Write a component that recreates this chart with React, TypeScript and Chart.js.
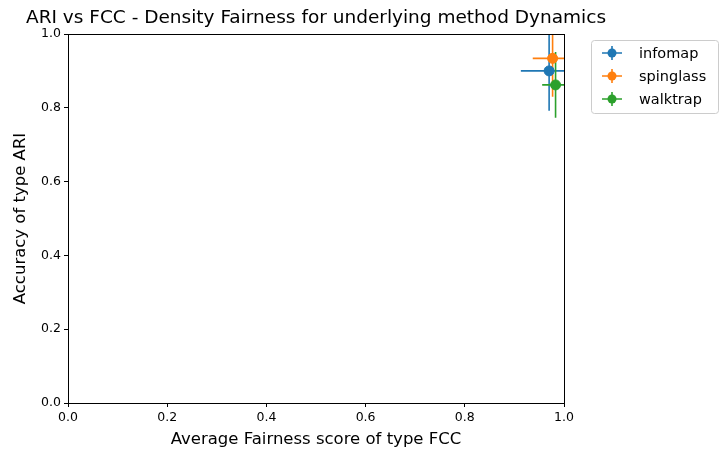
import React, { useEffect, useRef } from 'react'
import { Chart, registerables } from 'chart.js'

Chart.register(...registerables)

const methods = ['infomap', 'spinglass', 'walktrap']
const colors = ['#1f77b4', '#ff7f0e', '#2ca02c']
const fairness = [0.970, 0.977, 0.983]
const fairnessErr = [0.057, 0.040, 0.027]
const accuracy = [0.900, 0.934, 0.862]
const accuracyErr = [0.108, 0.104, 0.089]

const font = { family: 'DejaVu Sans' }

const errorBars = {
  id: 'errorBars',
  beforeDatasetsDraw(chart: any) {
    const { ctx, chartArea: a, scales: { x, y } } = chart
    ctx.save()
    ctx.beginPath()
    ctx.rect(a.left, a.top, a.right - a.left, a.bottom - a.top)
    ctx.clip()
    ctx.lineWidth = 1.6
    methods.forEach((_, i) => {
      ctx.strokeStyle = colors[i]
      const px = x.getPixelForValue(fairness[i])
      const py = y.getPixelForValue(accuracy[i])
      ctx.beginPath()
      ctx.moveTo(x.getPixelForValue(fairness[i] - fairnessErr[i]), py)
      ctx.lineTo(x.getPixelForValue(fairness[i] + fairnessErr[i]), py)
      ctx.moveTo(px, y.getPixelForValue(accuracy[i] - accuracyErr[i]))
      ctx.lineTo(px, y.getPixelForValue(accuracy[i] + accuracyErr[i]))
      ctx.stroke()
    })
    ctx.restore()
  },
  afterDraw(chart: any) {
    const { ctx, chartArea: a } = chart
    ctx.save()
    ctx.strokeStyle = '#000'
    ctx.lineWidth = 1
    ctx.strokeRect(a.left + 0.5, a.top + 0.5, a.right - a.left, a.bottom - a.top)
    ctx.fillStyle = '#000'
    ctx.font = '18.5px DejaVu Sans'
    ctx.textAlign = 'center'
    ctx.textBaseline = 'middle'
    ctx.fillText('ARI vs FCC - Density Fairness for underlying method Dynamics', 316, 18)
    // legend
    ctx.strokeStyle = '#cccccc'
    ctx.fillStyle = '#fff'
    ctx.lineWidth = 1
    const lx = 591, ly = 40, lw = 127, lh = 73
    ctx.beginPath()
    ctx.roundRect(lx + 0.5, ly + 0.5, lw, lh, 3)
    ctx.fill()
    ctx.stroke()
    ctx.font = '14.5px DejaVu Sans'
    ctx.textAlign = 'left'
    methods.forEach((m, i) => {
      const cy = ly + 13 + i * 23
      const cx = lx + 21
      ctx.strokeStyle = colors[i]
      ctx.fillStyle = colors[i]
      ctx.lineWidth = 1.6
      ctx.beginPath()
      ctx.moveTo(cx - 10, cy); ctx.lineTo(cx + 10, cy)
      ctx.moveTo(cx, cy - 7); ctx.lineTo(cx, cy + 7)
      ctx.stroke()
      ctx.beginPath()
      ctx.arc(cx, cy, 4.5, 0, Math.PI * 2)
      ctx.fill()
      ctx.fillStyle = '#000'
      ctx.fillText(m, lx + 48, cy + 1)
    })
    ctx.restore()
  },
}

export default function App() {
  const canvasRef = useRef<HTMLCanvasElement | null>(null)

  useEffect(() => {
    const el = canvasRef.current
    if (!el) return
    const tickCfg = {
      color: '#000',
      font: { ...font, size: 12.5 },
      callback: (v: any) => Number(v).toFixed(1),
      stepSize: 0.2,
    }
    const gridCfg = { drawOnChartArea: false, tickLength: 4, color: '#000' }
    const chart = new Chart(el, {
      type: 'scatter',
      data: {
        datasets: methods.map((m, i) => ({
          label: m,
          data: [{ x: fairness[i], y: accuracy[i] }],
          backgroundColor: colors[i],
          borderColor: colors[i],
          pointRadius: 5,
          pointHoverRadius: 5,
          clip: false as any,
        })),
      },
      options: {
        animation: false,
        responsive: false,
        layout: { padding: { left: 0, right: 163, top: 34, bottom: 0 } },
        plugins: { legend: { display: false }, tooltip: { enabled: false } },
        scales: {
          x: {
            type: 'linear', min: 0, max: 1,
            ticks: tickCfg, grid: gridCfg,
            border: { color: '#000', width: 1 },
            title: { display: true, text: 'Average Fairness score of type FCC', color: '#000', font: { ...font, size: 16.5 }, padding: { top: 0, bottom: 10 } },
            afterFit: (s: any) => { s.height = 57 },
          },
          y: {
            type: 'linear', min: 0, max: 1,
            ticks: tickCfg, grid: gridCfg,
            border: { color: '#000', width: 1 },
            title: { display: true, text: 'Accuracy of type ARI', color: '#000', font: { ...font, size: 16.5 }, padding: { top: 11, bottom: 0 } },
            afterFit: (s: any) => { s.width = 68 },
          },
        },
      },
      plugins: [errorBars],
    })
    return () => chart.destroy()
  }, [])

  return (
    <div style={{ position: 'absolute', left: 0, top: 0, width: 727, height: 460, background: '#fff' }}>
      <canvas ref={canvasRef} width={727} height={460} />
    </div>
  )
}
